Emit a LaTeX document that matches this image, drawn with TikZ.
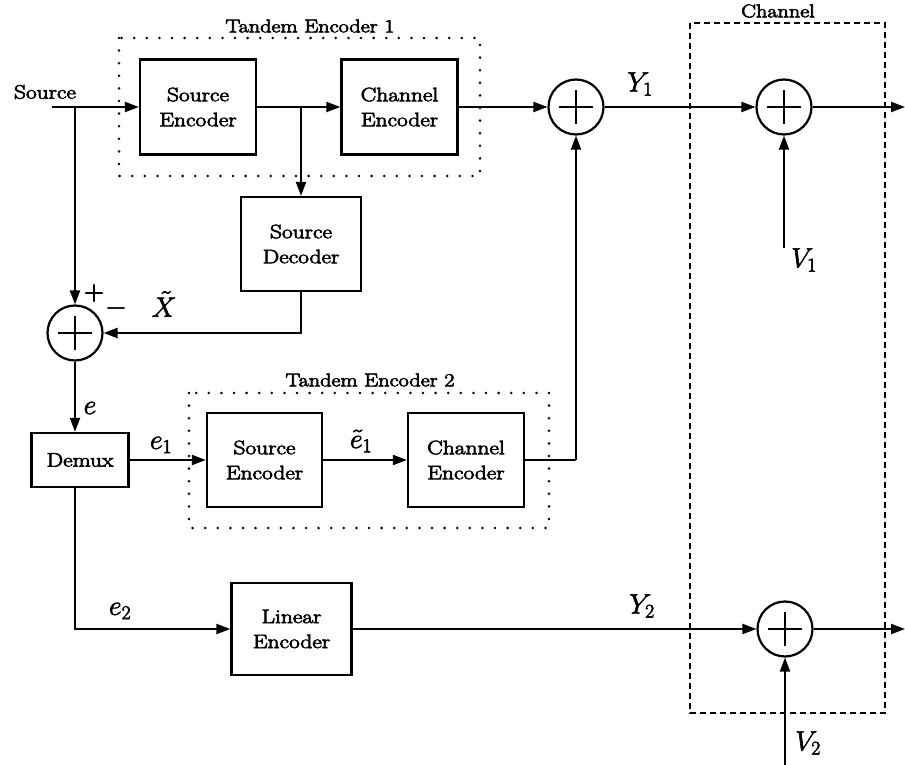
\RequirePackage{fix-cm}
\documentclass[tikz,border=0pt]{standalone}
\usetikzlibrary{arrows.meta}
% heavier glyphs: fill and stroke the outlines
\newcommand\ink[1]{\special{pdf:literal direct 2 Tr 0.6 w}#1\special{pdf:literal direct 0 Tr}}
% slightly widened, heavier lettering for the block texts
\newcommand\wtxt[1]{\ink{\scalebox{1.2}[1]{#1}}}
\tikzset{
  blk/.style={draw, line width=2.3pt, inner sep=0pt, align=center,
    font=\fontsize{19.5}{25}\selectfont},
  ttl/.style={font=\fontsize{18.5}{20}\selectfont, inner sep=0pt},
  lbl/.style={font=\fontsize{28}{30}\selectfont, inner sep=0pt},
  adder/.style={circle, draw, line width=2.2pt, minimum size=55pt, inner sep=0pt},
  sig/.style={line width=2.1pt, -{Triangle[length=14pt,width=10pt]}},
  wire/.style={line width=2.1pt},
  dotbox/.style={line width=2.8pt, dash pattern=on 0pt off 12.6pt, line cap=round},
  chbox/.style={line width=2.4pt, dash pattern=on 6pt off 4pt},
}
\begin{document}
\begin{tikzpicture}[x=1pt, y=-1pt]
\useasboundingbox (0,0) rectangle (905,765);

% group frames
\draw[dotbox] (119,38) rectangle (480,176);
\draw[dotbox] (189,393) rectangle (549,528);
\draw[chbox] (690,23) rectangle (885,713);
\node[ttl] (t1) at (310,26) {\wtxt{Tandem Encoder 1}};
\node[ttl] (t2) at (370,380) {\wtxt{Tandem Encoder 2}};
\node[ttl] (t3) at (778,11) {\wtxt{Channel}};

% blocks
\node[blk, minimum width=116pt, minimum height=95pt] (se1) at (198,107) {\wtxt{Source}\\\wtxt{Encoder}};
\node[blk, minimum width=116pt, minimum height=95pt] (ce1) at (399.5,107) {\wtxt{Channel}\\\wtxt{Encoder}};
\node[blk, minimum width=120pt, minimum height=94pt] (sd) at (301,244) {\wtxt{Source}\\\wtxt{Decoder}};
\node[blk, minimum width=97pt, minimum height=54pt] (dmx) at (80,460) {\wtxt{Demux}};
\node[blk, minimum width=115pt, minimum height=94pt] (se2) at (264.5,460) {\wtxt{Source}\\\wtxt{Encoder}};
\node[blk, minimum width=116pt, minimum height=94pt] (ce2) at (466,460) {\wtxt{Channel}\\\wtxt{Encoder}};
\node[blk, minimum width=120pt, minimum height=92pt] (le) at (291.5,629) {\wtxt{Linear}\\\wtxt{Encoder}};

% adders
\node[adder] (s0) at (75,333) {};
\node[adder] (a1) at (576,107) {};
\node[adder] (a2) at (784,107) {};
\node[adder] (a3) at (785,629) {};
\foreach \n in {s0,a1,a2,a3}
  \draw[line width=2.2pt] ([xshift=-17pt]\n.center) -- ([xshift=17pt]\n.center)
                          ([yshift=-17pt]\n.center) -- ([yshift=17pt]\n.center);

% free ends
\node[font=\fontsize{19.5}{22}\selectfont, inner sep=0pt] (srcl) at (45,92) {\wtxt{Source}};
\coordinate (src) at (52,107);
\coordinate (b0) at (75,107);
\coordinate (b1) at (301,107);
\coordinate (out1) at (905,107);
\coordinate (out2) at (905,629);
\coordinate (v1) at (784,248);
\coordinate (v2) at (785,765);
\coordinate (k1) at (576,460);

% connectors
\draw[sig] (src) -- (se1.west);
\draw[sig] (se1.east) -- (ce1.west);
\draw[sig] (b1) -- (sd.north);
\draw[sig] (ce1.east) -- (a1.west);
\draw[sig] (a1.east) -- (a2.west);
\draw[sig] (a2.east) -- (out1);
\draw[sig] (v1) -- (a2.south);
\draw[sig] (b0) -- (s0.north);
\draw[sig] (sd.south) |- (s0.east);
\draw[sig] (s0.south) -- (s0 |- dmx.north);
\draw[sig] (dmx.east) -- (se2.west);
\draw[sig] (se2.east) -- (ce2.west);
\draw[wire] (ce2.east) -- (k1);
\draw[sig] (k1) -- (a1.south);
\draw[sig] (s0 |- dmx.south) |- (le.west);
\draw[sig] (le.east) -- (a3.west);
\draw[sig] (a3.east) -- (out2);
\draw[sig] (v2) -- (a3.south);

% signal labels
\node[lbl] (ly1) at (640,84) {\ink{$Y_1$}};
\node[lbl] (ly2) at (642,606) {\ink{$Y_2$}};
\node[lbl] (lv1) at (804,260) {\ink{$V_1$}};
\node[lbl] (lv2) at (808,743) {\ink{$V_2$}};
\node[lbl] (le0) at (90,408) {\ink{$e$}};
\node[lbl] (le1) at (161,445) {\ink{$e_1$}};
\node[lbl] (lte) at (361,441) {\ink{$\tilde e_1$}};
\node[lbl] (le2) at (120,611) {\ink{$e_2$}};
\node[lbl] (lx) at (164,304) {\ink{$\tilde X$}};
\node[lbl] (lp) at (94,293) {\ink{$+$}};
\node[lbl] (lm) at (116,308) {\ink{$-$}};
\end{tikzpicture}
\end{document}
